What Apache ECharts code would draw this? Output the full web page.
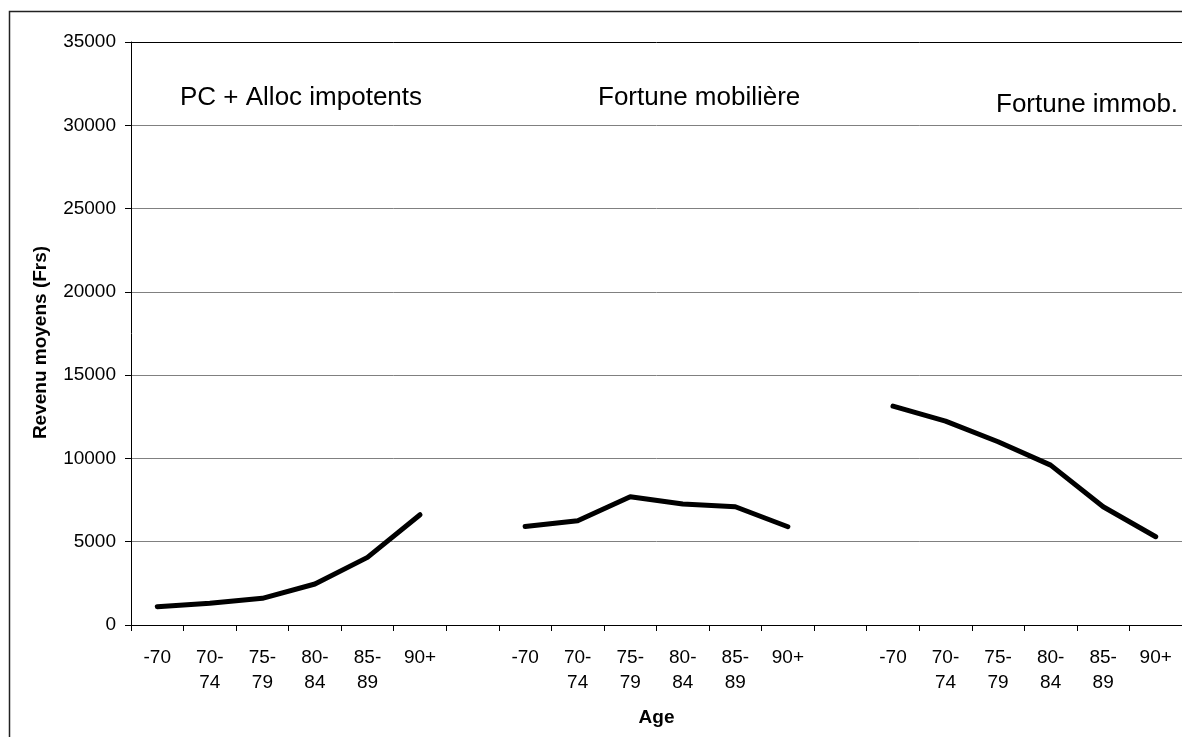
<!DOCTYPE html>
<html>
<head>
<meta charset="utf-8">
<script src="https://cdn.jsdelivr.net/npm/echarts@6/dist/echarts.min.js"></script>
<style>
html,body{margin:0;padding:0;background:#fff;}
#chart{width:1182px;height:737px;}
</style>
</head>
<body>
<div id="chart"></div>
<script>
// ---- data ----
const ageLabels = ['-70', '70-\n74', '75-\n79', '80-\n84', '85-\n89', '90+'];
const groupNames = ['PC + Alloc impotents', 'Fortune mobilière', 'Fortune immob.'];
const pcAlloc = [1100, 1300, 1600, 2460, 4060, 6620];
const fortuneMob = [5920, 6260, 7700, 7260, 7100, 5900];
const fortuneImmob = [13140, 12240, 11000, 9600, 7100, 5300];
const yTicks = [0, 5000, 10000, 15000, 20000, 25000, 30000, 35000];

// build 20-category axis: 6 + gap + 6 + gap + 6
const groups = [pcAlloc, fortuneMob, fortuneImmob];
const categories = [];
const seriesData = groups.map(() => []);
groups.forEach((g, gi) => {
  if (gi > 0) {
    categories.push('');
    seriesData.forEach(s => s.push(null));
  }
  ageLabels.forEach((lab, i) => {
    categories.push(lab);
    seriesData.forEach((s, si) => s.push(si === gi ? g[i] : null));
  });
});

const FONT = '"Liberation Sans", Arial, sans-serif';
const chart = echarts.init(document.getElementById('chart'));
const gridColors = yTicks.map((v, i) => i === yTicks.length - 1 ? '#000' : '#808080');

chart.setOption({
  animation: false,
  backgroundColor: '#fff',
  textStyle: { fontFamily: FONT },
  grid: { left: 131, top: 42, width: 1052, height: 583 },
  xAxis: {
    type: 'category',
    data: categories,
    boundaryGap: true,
    name: 'Age',
    nameLocation: 'middle',
    nameGap: 83,
    nameTextStyle: { fontSize: 19, fontWeight: 'bold', color: '#000', fontFamily: FONT },
    axisLine: { lineStyle: { color: '#000', width: 1 } },
    axisTick: { show: true, length: 6, alignWithLabel: false, interval: 0, lineStyle: { color: '#000' } },
    axisLabel: { interval: 0, color: '#000', fontSize: 19, lineHeight: 25, margin: 20, fontFamily: FONT },
    splitLine: { show: false }
  },
  yAxis: {
    type: 'value',
    min: yTicks[0],
    max: yTicks[yTicks.length - 1],
    interval: 5000,
    name: 'Revenu moyens (Frs)',
    nameLocation: 'middle',
    nameGap: 81,
    nameTextStyle: { fontSize: 19, fontWeight: 'bold', color: '#000', fontFamily: FONT, padding: [0, 18, 0, 0] },
    axisLine: { show: true, lineStyle: { color: '#000', width: 1 } },
    axisTick: { show: true, length: 6, lineStyle: { color: '#000' } },
    axisLabel: { color: '#000', fontSize: 19, margin: 15, fontFamily: FONT, formatter: v => String(v) },
    splitLine: { show: true, lineStyle: { color: gridColors, width: 1 } }
  },
  series: seriesData.map((d, i) => ({
    name: groupNames[i],
    type: 'line',
    data: d,
    showSymbol: false,
    symbol: 'none',
    connectNulls: false,
    lineStyle: { color: '#000', width: 5, cap: 'round', join: 'round' }
  })),
  graphic: [
    { type: 'rect', shape: { x: 9.5, y: 11.5, width: 1200, height: 800 }, style: { fill: 'none', stroke: '#222', lineWidth: 1.5 }, silent: true, z: -1 },
    { type: 'text', left: 180, top: 85, style: { text: groupNames[0], fontSize: 26, fill: '#000', fontFamily: FONT } },
    { type: 'text', left: 598, top: 85, style: { text: groupNames[1], fontSize: 26, fill: '#000', fontFamily: FONT } },
    { type: 'text', left: 996, top: 92, style: { text: groupNames[2], fontSize: 26, fill: '#000', fontFamily: FONT } }
  ]
});
</script>
</body>
</html>
